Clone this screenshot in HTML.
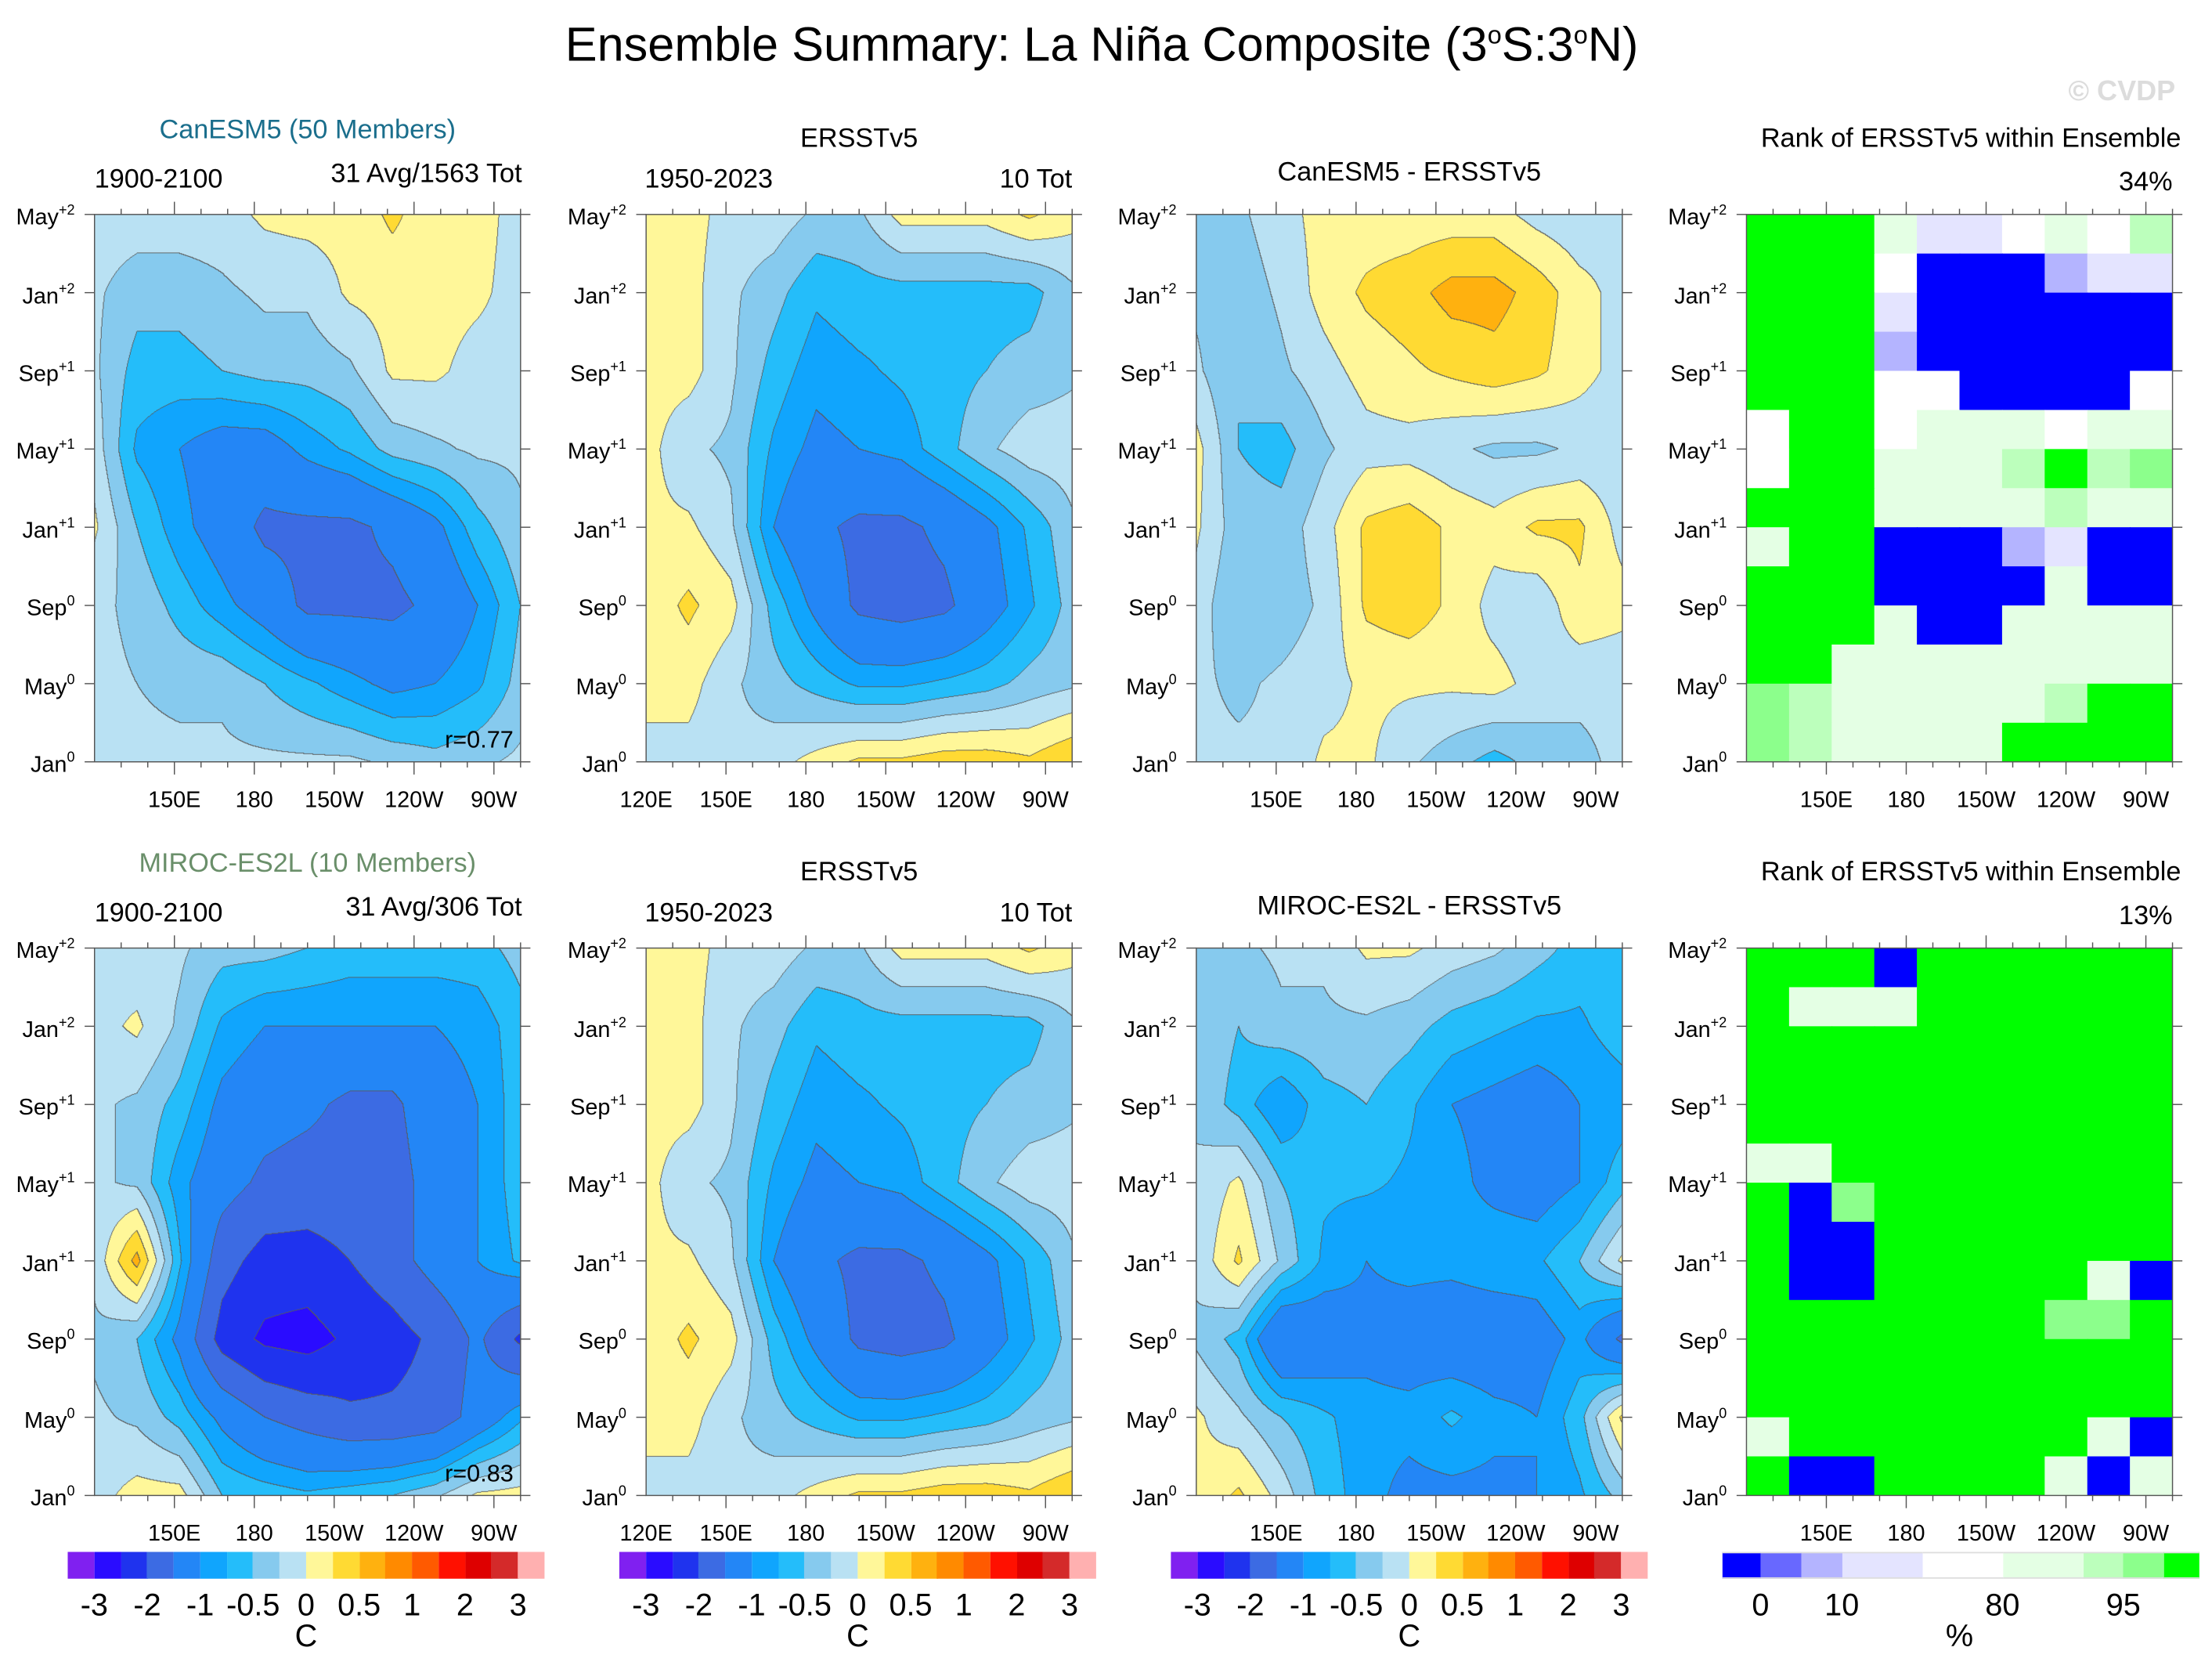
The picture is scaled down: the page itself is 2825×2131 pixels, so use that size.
<!DOCTYPE html>
<html><head><meta charset="utf-8">
<style>
html,body{margin:0;padding:0;background:#fff;}
#root{position:absolute;left:0;top:0;width:2825px;height:2131px;overflow:hidden;background:#fff;}
#stage{position:absolute;left:0;top:0;width:1568px;height:1183px;transform:scale(1.80166,1.80135);transform-origin:0 0;font-family:"Liberation Sans",sans-serif;color:#000;}
.t{position:absolute;white-space:nowrap;line-height:1;}
canvas{position:absolute;}
svg{position:absolute;left:0;top:0;}
</style></head>
<body>
<div id="root">
<div id="stage">
<div class="t" style="left:0;width:1562px;text-align:center;top:15px;font-size:34px;">Ensemble Summary: La Niña Composite (3<sup style="font-size:18px">o</sup>S:3<sup style="font-size:18px">o</sup>N)</div>
<div class="t" style="right:26px;top:55px;font-size:20px;font-weight:bold;color:#dcdcdc;">© CVDP</div>
</div>
</div>
<script>
// ---- data ----
const LEV = [-3,-2.5,-2,-1.5,-1,-0.75,-0.5,-0.25,0,0.25,0.5,0.75,1,1.5,2,2.5,3];
const TCOL = ["#8020f0","#2a0cff","#1f33ee","#3c6be3","#2386f6","#10a5fd","#24bdfa","#86caee","#b9e1f3","#fff799","#ffda33","#ffb10f","#ff8a00","#ff5a00","#ff1000","#de0000","#d42a2a","#ffb0b0"];
const TLAB = ["-3","-2","-1","-0.5","0","0.5","1","2","3"];
const RLEV = [5,10,20,50,80,90,95,99];
const RCOL = ["#0000ff","#6868ff","#b4b4ff","#e4e4ff","#ffffff","#e4ffe4","#bcffbc","#8cff8c","#00ff00"];
const RLAB = ["0","10","80","95"];
const YLAB = [["May","+2"],["Jan","+2"],["Sep","+1"],["May","+1"],["Jan","+1"],["Sep","0"],["May","0"],["Jan","0"]];
const XLON = [120,150,180,210,240,270];
const XLAB = ["120E","150E","180","150W","120W","90W"];

const canesm = [
[-0.1,-0.1,-0.1,-0.1,0.05,0.1,0.1,0.3,0.1,0.1,-0.1],
[-0.2,-0.4,-0.4,-0.3,-0.2,-0.2,0.05,0.1,0.1,0.05,-0.1],
[-0.2,-0.6,-0.6,-0.5,-0.4,-0.4,-0.3,0.05,0.05,-0.1,-0.1],
[-0.1,-0.8,-1.0,-1.2,-1.2,-0.9,-0.7,-0.4,-0.3,-0.2,-0.2],
[0.05,-0.5,-0.9,-1.2,-1.6,-1.6,-1.6,-1.4,-1.1,-0.6,-0.3],
[-0.2,-0.3,-0.6,-0.9,-1.2,-1.6,-1.6,-1.6,-1.4,-1.0,-0.5],
[-0.2,-0.25,-0.3,-0.3,-0.5,-0.7,-0.9,-1.1,-1.0,-0.8,-0.4],
[-0.2,-0.2,-0.2,-0.2,-0.2,-0.2,-0.2,-0.3,-0.4,-0.3,-0.2]];
const ersst = [
[0.1,0.1,-0.1,-0.1,-0.3,-0.3,0.1,0.1,0.1,0.3,0.1],
[0.1,0.1,-0.2,-0.4,-0.7,-0.6,-0.6,-0.6,-0.6,-0.6,-0.3],
[0.1,0.1,-0.2,-0.6,-0.9,-0.8,-0.7,-0.6,-0.5,-0.4,-0.3],
[0.1,-0.2,-0.3,-0.8,-1.1,-1.0,-0.9,-0.6,-0.3,-0.1,-0.1],
[0.05,0.05,-0.2,-1.0,-1.4,-1.6,-1.6,-1.4,-1.1,-0.7,-0.3],
[0.1,0.3,0.1,-0.6,-1.1,-1.6,-1.7,-1.6,-1.2,-0.8,-0.4],
[0.1,0.1,-0.2,-0.4,-0.6,-0.8,-0.8,-0.7,-0.6,-0.4,-0.3],
[-0.1,-0.1,-0.2,-0.1,0.1,0.3,0.3,0.4,0.4,0.3,0.5]];
const diff1 = [
[-0.3,-0.3,-0.1,0.1,0.1,0.1,0.1,0.1,-0.1,-0.2,-0.1],
[-0.3,-0.4,-0.2,0.1,0.3,0.4,0.6,0.6,0.4,0.1,-0.1],
[-0.2,-0.5,-0.3,-0.1,0.1,0.2,0.3,0.4,0.3,0.1,-0.1],
[0.1,-0.5,-0.6,-0.3,-0.1,-0.1,-0.2,-0.3,-0.3,-0.2,-0.2],
[0.05,-0.4,-0.4,-0.1,0.3,0.4,0.2,0.1,0.3,0.3,-0.1],
[-0.1,-0.5,-0.4,-0.2,0.3,0.4,0.2,-0.1,-0.2,0.2,0.1],
[-0.2,-0.3,-0.2,-0.1,0.05,0.05,0.05,0.1,-0.1,-0.2,-0.2],
[-0.2,-0.2,-0.2,0.05,0.05,-0.2,-0.4,-0.6,-0.4,-0.3,-0.2]];
const miroc = [
[-0.1,-0.2,-0.2,-0.4,-0.4,-0.5,-0.6,-0.6,-0.6,-0.6,-0.4],
[-0.1,0.05,-0.3,-0.8,-1.0,-1.0,-1.0,-1.0,-1.0,-0.9,-0.6],
[-0.2,-0.3,-0.6,-1.1,-1.3,-1.4,-1.6,-1.6,-1.2,-1.0,-0.6],
[-0.2,-0.3,-0.9,-1.3,-1.6,-1.7,-1.7,-1.7,-1.3,-1.0,-0.6],
[-0.2,0.6,-0.7,-1.8,-2.2,-2.2,-2.0,-1.7,-1.3,-1.0,-0.7],
[-0.3,-0.5,-1.1,-2.2,-2.6,-2.7,-2.4,-2.2,-1.9,-1.4,-2.1],
[-0.2,-0.3,-0.6,-1.1,-1.5,-1.7,-1.9,-1.9,-1.8,-1.3,-0.8],
[-0.1,0.1,0.1,-0.5,-0.6,-0.7,-0.6,-0.5,-0.3,0.05,0.1]];
const diff2 = [
[-0.4,-0.3,-0.2,-0.2,0.05,0.05,-0.1,-0.2,-0.4,-0.6,-0.6],
[-0.3,-0.5,-0.3,-0.3,-0.3,-0.4,-0.6,-0.7,-0.8,-0.8,-0.6],
[-0.3,-0.6,-1.0,-0.6,-0.5,-0.7,-1.0,-1.1,-1.2,-1.0,-0.9],
[-0.2,0.05,-0.5,-0.7,-0.7,-0.8,-0.9,-1.1,-1.2,-1.0,-0.6],
[-0.2,0.3,-0.3,-0.8,-1.0,-0.9,-0.9,-0.8,-0.8,-0.5,0.05],
[-0.3,-0.6,-1.5,-1.3,-1.1,-1.2,-1.3,-1.3,-1.2,-0.9,-1.6],
[0.05,-0.2,-0.5,-0.7,-0.9,-0.9,-0.7,-0.9,-1.0,-0.6,0.3],
[0.05,0.3,-0.1,-0.6,-0.9,-1.1,-1.1,-1.1,-1.0,-0.8,-0.4]];
const rank1 = [
[100,100,100,80,30,40,60,80,70,90],
[100,100,100,50,0,0,0,10,20,20],
[100,100,100,20,0,0,0,0,0,0],
[100,100,100,10,0,0,0,0,0,0],
[100,100,100,70,50,0,0,0,0,50],
[70,100,100,70,80,80,80,70,80,80],
[70,100,100,80,85,85,90,100,90,95],
[100,100,100,80,80,85,85,90,85,85],
[80,100,100,0,0,0,10,20,0,0],
[100,100,100,0,0,0,0,80,0,0],
[100,100,100,80,0,0,80,85,85,80],
[100,100,80,80,80,80,80,80,85,85],
[95,90,80,80,80,80,80,90,100,100],
[95,90,80,80,80,80,100,100,100,100]];
const rank2 = [
[100,100,100,0,100,100,100,100,100,100],
[100,80,80,80,100,100,100,100,100,100],
[100,100,100,100,100,100,100,100,100,100],
[100,100,100,100,100,100,100,100,100,100],
[100,100,100,100,100,100,100,100,100,100],
[80,80,100,100,100,100,100,100,100,100],
[100,0,95,100,100,100,100,100,100,100],
[100,0,0,100,100,100,100,100,100,100],
[100,0,0,100,100,100,100,100,80,0],
[100,100,100,100,100,100,100,95,95,100],
[100,100,100,100,100,100,100,100,100,100],
[100,100,100,100,100,100,100,100,100,100],
[80,100,100,100,100,100,100,100,80,0],
[100,0,0,100,100,100,100,80,0,80]];

// ---- layout ----
const stage = document.getElementById('stage');
const PX = [67,458,848,1238], PY = [152,672], PW = 302, PH = 388;
const lonX = (left, lon) => left + (lon - 120) / 160 * PW;
const rowY = (top, i) => top + i / 7 * PH;
function cls(v){ let i=0; while(i<LEV.length && v>=LEV[i]) i++; return i; }
function rcls(v){ let i=0; while(i<RLEV.length && v>=RLEV[i]) i++; return i; }
function hex(h){ return [parseInt(h.substr(1,2),16),parseInt(h.substr(3,2),16),parseInt(h.substr(5,2),16)]; }

function text(str, x, y, size, align, name, color){
  const d = document.createElement('div');
  d.className = 't';
  
  
  d.style.fontSize = size + 'px';
  d.style.top = (y - size*0.8) + 'px';
  if (color) d.style.color = color;
  d.innerHTML = str;
  if (align === 'right') { d.style.right = (1568 - x) + 'px'; }
  else if (align === 'center') { d.style.left = (x - 300) + 'px'; d.style.width = '600px'; d.style.textAlign = 'center'; }
  else d.style.left = x + 'px';
  stage.appendChild(d);
  return d;
}

function contourPanel(left, top, data, name){
  const S = 2, W = PW*S, H = PH*S;
  const c = document.createElement('canvas');
  
  
  c.width = W; c.height = H;
  c.style.left = left + 'px'; c.style.top = top + 'px';
  c.style.width = PW + 'px'; c.style.height = PH + 'px';
  const ctx = c.getContext('2d');
  const img = ctx.createImageData(W, H);
  const idx = new Int8Array(W*H);
  const nc = data[0].length - 1, nr = data.length - 1;
  for (let y=0; y<H; y++){
    const fy = (y+0.5)/H*nr; let r0 = Math.min(Math.floor(fy), nr-1); const ty = fy - r0;
    for (let x=0; x<W; x++){
      const fx = (x+0.5)/W*nc; let c0 = Math.min(Math.floor(fx), nc-1); const tx = fx - c0;
      const v = (data[r0][c0]*(1-tx)+data[r0][c0+1]*tx)*(1-ty) + (data[r0+1][c0]*(1-tx)+data[r0+1][c0+1]*tx)*ty;
      idx[y*W+x] = cls(v);
    }
  }
  const cols = TCOL.map(hex);
  for (let y=0; y<H; y++) for (let x=0; x<W; x++){
    const k = y*W+x, i = idx[k];
    let col = cols[i];
    if ((x<W-1 && idx[k+1]!==i) || (y<H-1 && idx[k+W]!==i)) col = [90,90,90];
    img.data[k*4]=col[0]; img.data[k*4+1]=col[1]; img.data[k*4+2]=col[2]; img.data[k*4+3]=255;
  }
  ctx.putImageData(img, 0, 0);
  stage.appendChild(c);
}

function rankPanel(left, top, data, name){
  const nr = data.length, nc = data[0].length;
  const svg = document.createElementNS('http://www.w3.org/2000/svg','svg');
  
  
  svg.setAttribute('width', PW); svg.setAttribute('height', PH);
  svg.style.left = left + 'px'; svg.style.top = top + 'px';
  for (let r=0; r<nr; r++) for (let k=0; k<nc; k++){
    const rect = document.createElementNS('http://www.w3.org/2000/svg','rect');
    
    
    rect.setAttribute('x', k*PW/nc); rect.setAttribute('y', r*PH/nr);
    rect.setAttribute('width', PW/nc+0.5); rect.setAttribute('height', PH/nr+0.5);
    rect.setAttribute('fill', RCOL[rcls(data[r][k])]);
    svg.appendChild(rect);
  }
  stage.appendChild(svg);
}

function axes(left, top, showFirstLon){
  const NS='http://www.w3.org/2000/svg';
  const svg = document.createElementNS(NS,'svg');
  
  
  svg.setAttribute('width',1568); svg.setAttribute('height',1183);
  let s = `<rect x="${left}" y="${top}" width="${PW}" height="${PH}" fill="none" stroke="#555" stroke-width="0.8"/>`;
  for (let i=0;i<8;i++){ const y=rowY(top,i);
    s += `<line x1="${left-7}" y1="${y}" x2="${left}" y2="${y}" stroke="#555" stroke-width="0.8"/><line x1="${left+PW}" y1="${y}" x2="${left+PW+7}" y2="${y}" stroke="#555" stroke-width="0.8"/>`; }
  for (let lon=130; lon<=280; lon+=10){ const x=lonX(left,lon); const major = (lon%30===0);
    const L = major?9:4;
    s += `<line x1="${x}" y1="${top-L}" x2="${x}" y2="${top}" stroke="#555" stroke-width="0.8"/><line x1="${x}" y1="${top+PH}" x2="${x}" y2="${top+PH+L}" stroke="#555" stroke-width="0.8"/>`; }
  svg.innerHTML = s;
  stage.appendChild(svg);
  for (let i=0;i<8;i++) text(YLAB[i][0]+'<sup style="font-size:10px;vertical-align:7px">'+YLAB[i][1]+'</sup>', left-14, rowY(top,i)+6, 16, 'right', 'y-tick-label');
  for (let j=0;j<XLON.length;j++){ if (j===0 && !showFirstLon) continue;
    text(XLAB[j], lonX(left,XLON[j]), top+PH+33, 16, 'center', 'x-tick-label'); }
}

function tempBar(left, y){
  const w = 338/18;
  for (let i=0;i<18;i++){
    const d=document.createElement('div');
    
    
    d.style.cssText=`position:absolute;left:${left+i*w}px;top:${y}px;width:${w+0.3}px;height:19px;background:${TCOL[i]}`;
    stage.appendChild(d);
  }
  for (let j=0;j<TLAB.length;j++) text(TLAB[j], left+(1+2*j)*w, y+45, 22, 'center', 'colorbar-label');
  text('C', left+9*w, y+67, 22, 'center', 'colorbar-units');
}
function rankBar(y){
  const B=[1221,1248,1276.5,1305.6,1362.7,1419.5,1476.8,1505.2,1533.6,1559];
  for (let i=0;i<9;i++){
    const d=document.createElement('div');
    
    
    d.style.cssText=`position:absolute;left:${B[i]}px;top:${y}px;width:${B[i+1]-B[i]+0.3}px;height:19px;background:${RCOL[i]};box-sizing:border-box;border-top:1px solid #ddd;border-bottom:1px solid #ddd`;
    stage.appendChild(d);
  }
  const pos=[B[1],B[3],B[5],B[7]];
  for (let j=0;j<RLAB.length;j++) text(RLAB[j], pos[j], y+45, 22, 'center', 'rank-colorbar-label');
  text('%', 1389, y+67, 22, 'center', 'rank-colorbar-units');
}

// ---- panels ----
contourPanel(PX[0],PY[0],canesm,'canesm5-composite');
contourPanel(PX[1],PY[0],ersst,'ersstv5-composite-top');
contourPanel(PX[2],PY[0],diff1,'canesm5-minus-ersst');
rankPanel(PX[3],PY[0],rank1,'rank-canesm5');
contourPanel(PX[0],PY[1],miroc,'miroc-composite');
contourPanel(PX[1],PY[1],ersst,'ersstv5-composite-bottom');
contourPanel(PX[2],PY[1],diff2,'miroc-minus-ersst');
rankPanel(PX[3],PY[1],rank2,'rank-miroc');
for (let r=0;r<2;r++) for (let c=0;c<4;c++) axes(PX[c],PY[r],c===1);

// ---- titles ----
const rows = [
 {m:'CanESM5 (50 Members)', mc:'#1a6e8c', tot:'31 Avg/1563 Tot', d:'CanESM5 - ERSSTv5', pct:'34%', r:'r=0.77'},
 {m:'MIROC-ES2L (10 Members)', mc:'#6a8f6a', tot:'31 Avg/306 Tot', d:'MIROC-ES2L - ERSSTv5', pct:'13%', r:'r=0.83'}];
rows.forEach((o,r)=>{
  const off = r*520;
  text(o.m, 218, 98+off, 19, 'center', 'model-title', o.mc);
  text('1900-2100', 67, 133+off, 19, 'left', 'model-years');
  text(o.tot, 370, 129+off, 19, 'right', 'model-count');
  text('ERSSTv5', 609, 104+off, 19, 'center', 'obs-title');
  text('1950-2023', 457, 133+off, 19, 'left', 'obs-years');
  text('10 Tot', 760, 133+off, 19, 'right', 'obs-count');
  text(o.d, 999, 128+off, 19, 'center', 'difference-title');
  text('Rank of ERSSTv5 within Ensemble', 1546, 104+off, 19, 'right', 'rank-title');
  text(o.pct, 1540, 135+off, 19, 'right', 'rank-percent');
  text(o.r, 364, 530+off, 17, 'right', 'pattern-correlation');
});
tempBar(48,1100); tempBar(439,1100); tempBar(830,1100); rankBar(1100);
</script>
</body></html>
